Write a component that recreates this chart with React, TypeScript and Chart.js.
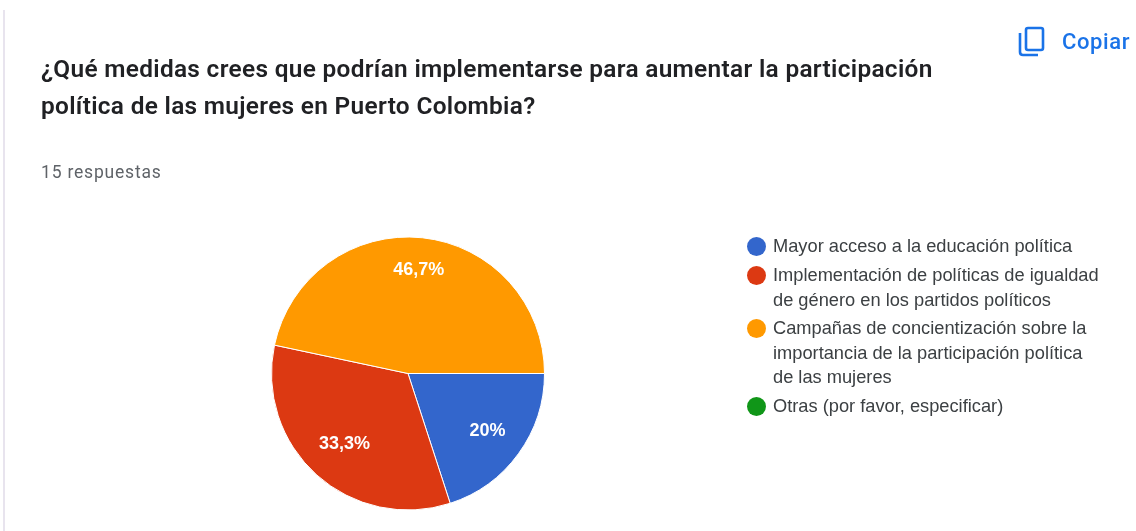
import React, { useEffect, useRef } from "react";
import { Chart, registerables } from "chart.js";

Chart.register(...registerables);

const titleLines = [
  "¿Qué medidas crees que podrían implementarse para aumentar la participación",
  "política de las mujeres en Puerto Colombia?",
];
const subtitle = "15 respuestas";
const copyLabel = "Copiar";
const categories = [
  "Mayor acceso a la educación política",
  "Implementación de políticas de igualdad de género en los partidos políticos",
  "Campañas de concientización sobre la importancia de la participación política de las mujeres",
  "Otras (por favor, especificar)",
];
const legendLines = [
  ["Mayor acceso a la educación política"],
  ["Implementación de políticas de igualdad", "de género en los partidos políticos"],
  ["Campañas de concientización sobre la", "importancia de la participación política", "de las mujeres"],
  ["Otras (por favor, especificar)"],
];
const responses = [3, 5, 7, 0];
const sliceLabels = ["20%", "33,3%", "46,7%", ""];
const labelRadii = [0.72, 0.695, 0.76, 0];
const colors = ["#3366cc", "#dc3912", "#ff9900", "#109618"];
const legendTops = [235, 264, 317, 395];

const sliceLabelPlugin = {
  id: "sliceLabels",
  afterDatasetsDraw(chart: any) {
    const { ctx } = chart;
    const arcs = chart.getDatasetMeta(0).data;
    ctx.save();
    ctx.font = "600 18px 'Liberation Sans'";
    ctx.fillStyle = "#ffffff";
    ctx.textAlign = "center";
    ctx.textBaseline = "middle";
    arcs.forEach((arc: any, i: number) => {
      if (!sliceLabels[i]) return;
      const mid = (arc.startAngle + arc.endAngle) / 2;
      const r = arc.outerRadius * labelRadii[i];
      ctx.fillText(sliceLabels[i], arc.x + Math.cos(mid) * r, arc.y + Math.sin(mid) * r);
    });
    ctx.restore();
  },
};

export default function App() {
  const ref = useRef<HTMLCanvasElement>(null);
  useEffect(() => {
    document.body.style.margin = "0";
    document.body.style.background = "#ffffff";
    const chart = new Chart(ref.current!, {
      type: "pie",
      data: {
        labels: categories,
        datasets: [{
          data: responses,
          backgroundColor: colors,
          borderColor: "#ffffff",
          borderWidth: 1,
        }],
      },
      options: {
        animation: false,
        responsive: false,
        rotation: 90,
        layout: { padding: { left: 0, right: 320, top: 236.5, bottom: 20.5 } },
        plugins: { legend: { display: false }, tooltip: { enabled: false } },
      },
      plugins: [sliceLabelPlugin],
    });
    return () => chart.destroy();
  }, []);

  return (
    <div style={{ position: "relative", width: 1136, height: 531, overflow: "hidden", background: "#fff" }}>
      <div style={{ position: "absolute", left: 3, top: 10, width: 2, height: 521, background: "#e8e4ee" }} />
      <canvas ref={ref} width={1136} height={531} style={{ position: "absolute", left: 0, top: 0 }} />
      {titleLines.map((t, i) => (
        <div key={i} style={{
          position: "absolute", left: 41, top: 54 + i * 37, lineHeight: "32px", whiteSpace: "nowrap",
          font: "600 24.4px Roboto", color: "#202124", letterSpacing: "0.32px",
        }}>{t}</div>
      ))}
      <div style={{
        position: "absolute", left: 41, top: 162, whiteSpace: "nowrap",
        font: "400 17.5px Roboto", color: "#5f6368", letterSpacing: "0.8px",
      }}>{subtitle}</div>
      <svg style={{ position: "absolute", left: 1018, top: 26 }} width={28} height={32} viewBox="0 0 28 32" fill="none" stroke="#1a73e8" strokeWidth={2.6}>
        <rect x={8} y={2} width={17} height={22} rx={2} />
        <path d="M2 7 V26 Q2 29 5 29 H20" />
      </svg>
      <div style={{
        position: "absolute", left: 1062, top: 29, whiteSpace: "nowrap",
        font: "500 22px Roboto", color: "#1a73e8", letterSpacing: "0.6px",
      }}>{copyLabel}</div>
      {legendLines.map((lines, i) => (
        <React.Fragment key={i}>
          <div style={{
            position: "absolute", left: 747, top: legendTops[i] + 2, width: 19, height: 19,
            borderRadius: "50%", background: colors[i],
          }} />
          {lines.map((l, j) => (
            <div key={j} style={{
              position: "absolute", left: 773, top: legendTops[i] + j * 24.5, lineHeight: "24px", whiteSpace: "nowrap",
              font: "400 18.25px 'Liberation Sans'", color: "#3c4043",
            }}>{l}</div>
          ))}
        </React.Fragment>
      ))}
    </div>
  );
}
